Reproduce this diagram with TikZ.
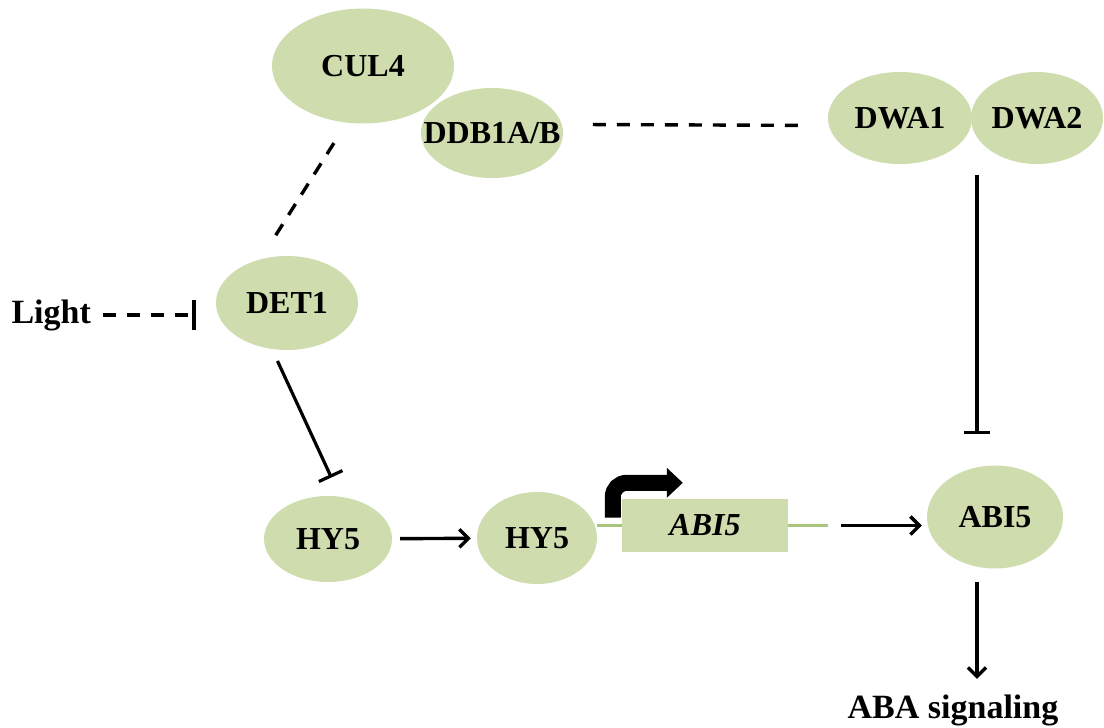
\documentclass[tikz,border=0pt]{standalone}
\usepackage{fontspec}
\setmainfont{Liberation Serif}
\usepackage{tikz}
\usetikzlibrary{positioning,arrows.meta,shapes.geometric,calc}
\definecolor{protgreen}{HTML}{CFDDAE}
\definecolor{dnagreen}{HTML}{A9C67C}
% keep the label from widening the ellipse
\newcommand{\ptxt}[1]{\makebox[0pt]{#1}}

\begin{document}
\begin{tikzpicture}[x=1pt,y=-1pt,
  font=\fontsize{32}{38}\selectfont\bfseries,
  protnode/.style={ellipse,fill=protgreen,inner sep=0pt},
  genebox/.style={rectangle,fill=protgreen,minimum width=166pt,minimum height=53pt,inner sep=0pt,font=\fontsize{32}{38}\selectfont\bfseries\itshape},
  arr/.style={-{Straight Barb[length=9pt,width=18pt]},line width=3.4pt},
  inhib/.style={-{Bar[width=26pt]},line width=3.2pt},
  dashlink/.style={dash pattern=on 13pt off 11pt,line width=3.4pt},
  dnaline/.style={dnagreen,line width=3pt},
  promoter/.style={line width=16pt,rounded corners=14pt,-{Triangle[length=16pt,width=29pt]}},
  bigtext/.style={font=\fontsize{34}{40}\selectfont\bfseries},
]
\useasboundingbox (0,0) rectangle (1104,728);

% Ubiquitin ligase complex
\node[protnode,minimum width=182pt,minimum height=115pt] (cul4) at (363,66)  {\ptxt{CUL4}};
\node[protnode,minimum width=142pt,minimum height=90pt]  (ddb1) at (492,133) {\ptxt{DDB1A/B}};
\node[protnode,minimum width=144pt,minimum height=92pt]  (dwa1) at (900,118) {\ptxt{DWA1}};
\node[protnode,minimum width=132pt,minimum height=92pt]  (dwa2) at (1037,118) {\ptxt{DWA2}};
\coordinate (dwajoin) at (977,164);

% Light signalling
\node[bigtext,anchor=base west] (light) at (8,323) {Light};
\node[protnode,minimum width=142pt,minimum height=94pt] (det1) at (287,303) {\ptxt{DET1}};

% HY5 and the ABI5 gene
\node[protnode,minimum width=128pt,minimum height=86pt]  (hy5a) at (328,539) {\ptxt{HY5}};
\node[protnode,minimum width=120pt,minimum height=92pt]  (hy5b) at (537,538) {\ptxt{HY5}};
\node[genebox] (abi5g) at (705,525.5) {ABI5};
\node[protnode,minimum width=136pt,minimum height=103pt] (abi5) at (995,517) {\ptxt{ABI5}};
\node[bigtext,anchor=base] (aba) at (953,718) {ABA signaling};

\draw[dnaline] (hy5b.east |- abi5g.west) -- (abi5g.west);
\draw[dnaline] (abi5g.east) -- ++(40,0);
\draw[promoter] ($(abi5g.west)+(-9,-8)$) |- ($(abi5g.north west)+(61,-16)$);

% Links
\draw[dashlink,shorten <=24pt,shorten >=19pt] (cul4.254) -- (det1.121);
\draw[dashlink,shorten <=31pt,shorten >=21pt] (ddb1.7) -- (dwa1.186);
\draw[dashlink,-{Bar[width=30pt]},shorten <=9pt,shorten >=20pt] (light.east) -- (light.east -| det1.west);
\draw[inhib,shorten <=13pt,shorten >=21pt] (det1.252) -- (hy5a.74);
\draw[arr,shorten <=8pt,shorten >=6pt] (hy5a) -- (hy5b);
\draw[arr,shorten <=53pt,shorten >=5pt] (abi5g.east) -- (abi5g.east -| abi5.west);
\draw[inhib,shorten <=11pt,shorten >=31pt] (dwajoin) -- (dwajoin |- abi5.north);
\draw[arr,shorten <=13pt,shorten >=12pt] (dwajoin |- abi5.south) -- (dwajoin |- aba.north);
\end{tikzpicture}
\end{document}
